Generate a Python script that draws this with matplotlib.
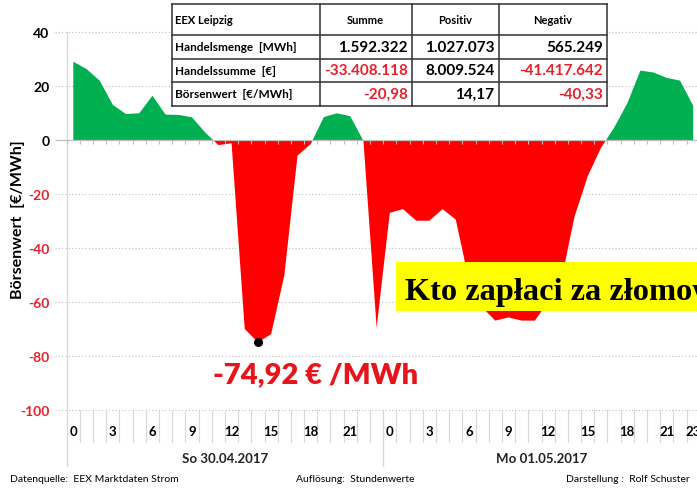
import numpy as np
import matplotlib
matplotlib.use("Agg")
import matplotlib.pyplot as plt
from matplotlib.patches import Rectangle

plt.rcParams['font.family'] = ['Lato', 'DejaVu Sans']

# ---------------- data ----------------
hours = list(range(48))
prices = [29.0, 26.3, 22.0, 13.0, 9.6, 9.9, 16.4, 9.4, 9.3, 8.4, 2.8, -1.9,
          -1.2, -70.0, -74.92, -71.9, -50.2, -5.8, -1.5, 8.5, 9.9, 8.8, -0.3, -69.5,
          -27.0, -25.6, -29.9, -29.9, -25.6, -29.5, -52.0, -62.0, -66.9, -65.7, -66.9, -66.9,
          -60.0, -52.0, -28.5, -13.5, -3.0, 4.5, 13.5, 25.7, 25.0, 23.0, 22.0, 12.7]
tick_pos = [0, 3, 6, 9, 12, 15, 18, 21, 24, 27, 30, 33, 36, 39, 42, 45, 47]
tick_labels = ["0", "3", "6", "9", "12", "15", "18", "21",
               "0", "3", "6", "9", "12", "15", "18", "21", "23"]
day_labels = ["So 30.04.2017", "Mo 01.05.2017"]
yticks = [40, 20, 0, -20, -40, -60, -80, -100]
min_label = "-74,92 € /MWh"

table_cols = ["EEX Leipzig", "Summe", "Positiv", "Negativ"]
table_rows = ["Handelsmenge  [MWh]", "Handelssumme  [€]", "Börsenwert  [€/MWh]"]
table_vals = [["1.592.322", "1.027.073", "565.249"],
              ["-33.408.118", "8.009.524", "-41.417.642"],
              ["-20,98", "14,17", "-40,33"]]
footer = ["Datenquelle:  EEX Marktdaten Strom", "Auflösung:  Stundenwerte",
          "Darstellung :  Rolf Schuster"]
banner = "Kto zapłaci za złomowanie?"

RED = '#E8202A'
GREEN = '#00B050'
GRID = '#BFBFBF'
LIGHT = '#D9D9D9'

W, H = 697, 489
fig = plt.figure(figsize=(W / 100, H / 100), dpi=100)

# main axes, placed in pixel terms
x0, x1 = 66.7, 697.0
y_top, y_bot = 33.0, 411.0
ax = fig.add_axes([x0 / W, (H - y_bot) / H, (x1 - x0) / W, (y_bot - y_top) / H])
ax.set_xlim(-0.5, 47.29)
ax.set_ylim(-100, 40)
ax.patch.set_alpha(0)
for s in ax.spines.values():
    s.set_visible(False)

x = np.array(hours, dtype=float)
y = np.array(prices)
ax.fill_between(x, y, 0, where=y >= 0, interpolate=True, color=GREEN, lw=0, zorder=2)
ax.fill_between(x, y, 0, where=y <= 0, interpolate=True, color='#FF0000', lw=0, zorder=2)

# gridlines
for v in yticks:
    if v == 0:
        continue
    ax.hlines(v, -0.019, 1.0, transform=ax.get_yaxis_transform(), colors=GRID,
              linestyles=(0, (1, 2)), lw=0.8, zorder=0, clip_on=False)
# zero axis with ticks
ax.axhline(0, color=GRID, lw=0.9, zorder=3)
ax.hlines(0, -0.019, 0, transform=ax.get_yaxis_transform(), colors=GRID, lw=0.9, clip_on=False)
bounds = np.arange(-0.5, 48.0, 1.0)
ax.vlines(bounds, -1.6, 0, colors=GRID, lw=0.8, zorder=3)

# left axis line + separators in the label band
xt = ax.get_xaxis_transform()
for b in bounds:
    if b in (-0.5, 23.5):
        ax.plot([b, b], [1.0 if b == -0.5 else 0.0, -0.148], transform=xt, color=LIGHT,
                lw=1.0, clip_on=False, zorder=1)
    else:
        ax.plot([b, b], [0.0, -0.085], transform=xt, color=LIGHT, lw=0.8,
                clip_on=False, zorder=1)

ax.set_xticks(tick_pos)
ax.set_xticklabels(tick_labels, fontsize=9.5, fontweight='bold')
ax.tick_params(axis='x', length=0, pad=11)
ax.set_yticks(yticks)
ax.set_yticklabels([str(v) for v in yticks], fontsize=10, fontweight='bold')
for lab, v in zip(ax.get_yticklabels(), yticks):
    lab.set_color(RED if v < 0 else 'black')
ax.tick_params(axis='y', length=0, pad=12.5)

for i, d in enumerate(day_labels):
    ax.text(11.5 + 24 * i, -0.127, d, transform=xt, ha='center', va='center',
            fontsize=9.5, fontweight='bold', color='#222222')

# minimum marker
imin = int(np.argmin(y))
ax.plot(x[imin], y[imin], 'o', color='black', ms=5.5, zorder=5)

# overlay in pixel coordinates
ov = fig.add_axes([0, 0, 1, 1])
ov.set_xlim(0, W)
ov.set_ylim(H, 0)
ov.axis('off')
ov.patch.set_alpha(0)

ov.text(18, 220, "Börsenwert  [€/MWh]", rotation=90, ha='center', va='center',
        fontsize=11.5, fontweight='bold')

ov.text(315.5, 375, min_label, ha='center', va='center', fontsize=21,
        fontweight='heavy', color='#E8141C')

# table
cx = [172, 319.5, 412, 498.5, 607]
ry = [5, 36, 59.5, 83, 107]
ov.add_patch(Rectangle((cx[0], ry[0]), cx[-1] - cx[0], ry[-1] - ry[0],
                       facecolor='white', edgecolor='none', zorder=5))
for xx in cx:
    ov.plot([xx, xx], [ry[0], ry[-1]], color='#303030', lw=1.1, zorder=6)
for yy in ry:
    ov.plot([cx[0], cx[-1]], [yy, yy], color='#303030', lw=1.1, zorder=6)
ov.text(cx[0] + 3, (ry[0] + ry[1]) / 2, table_cols[0], ha='left', va='center',
        fontsize=8, fontweight='bold', zorder=7)
for j in range(1, 4):
    ov.text((cx[j] + cx[j + 1]) / 2, (ry[0] + ry[1]) / 2, table_cols[j], ha='center',
            va='center', fontsize=8, fontweight='bold', zorder=7)
for i, rl in enumerate(table_rows):
    yc = (ry[i + 1] + ry[i + 2]) / 2
    ov.text(cx[0] + 3, yc, rl, ha='left', va='center', fontsize=8.5,
            fontweight='bold', zorder=7)
    for j, val in enumerate(table_vals[i]):
        col = RED if val.startswith('-') else 'black'
        ov.text(cx[j + 2] - 4, yc, val, ha='right', va='center', fontsize=11,
                fontweight='bold', color=col, zorder=7)

# banner
ov.add_patch(Rectangle((396, 263.3), 320, 48.4, facecolor='#FFFF00', edgecolor='none', zorder=8))
ov.text(405, 300, banner, ha='left', va='baseline', fontsize=23.3, fontweight='bold',
        family='Liberation Serif', color='black', zorder=9)

# footer
ov.text(10, 479, footer[0], ha='left', va='center', fontsize=7.5)
ov.text(296, 479, footer[1], ha='left', va='center', fontsize=7.5)
ov.text(690, 479, footer[2], ha='right', va='center', fontsize=7.5)

fig.savefig("out.png", dpi=100)
